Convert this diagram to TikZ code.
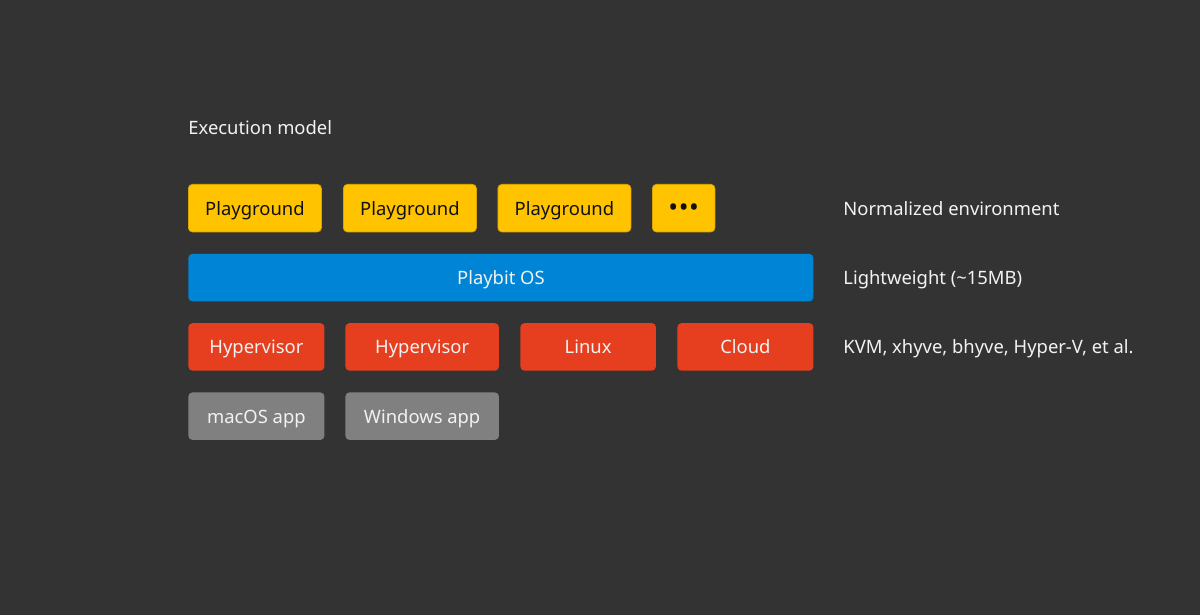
\documentclass[tikz,border=0pt]{standalone}
\usepackage{fontspec}
\setmainfont{Noto Sans}
\usepackage{xcolor}
\usetikzlibrary{positioning}
\definecolor{bg}{HTML}{333333}
\definecolor{text}{HTML}{F2F2F2}
\definecolor{ink}{HTML}{111111}
\definecolor{amber}{HTML}{FFC300}
\definecolor{amberline}{HTML}{D9A400}
\definecolor{azure}{HTML}{0084D6}
\definecolor{vermil}{HTML}{E63F1F}
\definecolor{slate}{HTML}{808080}
\tikzset{
  Block/.style={
    anchor=north west, inner sep=0pt,
    rounded corners=2pt,
    minimum height=23.75pt,
    text height=0.7em, text depth=0pt,
    font=\fontsize{9.2}{11}\selectfont
  },
  GuestBlock/.style={Block, fill=amber, draw=amberline, line width=0.4pt, text=ink},
  KernelBlock/.style={Block, fill=azure, text=text},
  HostBlock/.style={Block, fill=vermil, text=text},
  AppBlock/.style={Block, fill=slate, text=text},
  SideNote/.style={anchor=west, inner sep=0pt, text=text,
    text height=0.7em, text depth=0pt,
    font=\fontsize{9.2}{11}\selectfont}
}

\begin{document}
\begin{tikzpicture}[x=0.5pt, y=-0.5pt]
  % canvas
  \fill[bg] (0,0) rectangle (1200,615);
  \useasboundingbox (0,0) rectangle (1200,615);

  \node[SideNote] (title) at (188,128) {Execution model};

  % guest row
  \node[GuestBlock, minimum width=66.5pt] (play1) at (188,184) {Playground};
  \node[GuestBlock, minimum width=66.5pt] (play2) at (343,184) {Playground};
  \node[GuestBlock, minimum width=66.5pt] (play3) at (497.5,184) {Playground};
  \node[GuestBlock, minimum width=31.25pt, text height=0.84em,
    font=\fontsize{13}{13}\selectfont] (more) at (652,184) {•\kern0.3pt•\kern0.3pt•};

  % kernel row
  \node[KernelBlock, minimum width=312.5pt] (os) at (188,253.5) {Playbit OS};

  % host row
  \node[HostBlock, minimum width=68pt] (hyp1) at (188,322.75) {Hypervisor};
  \node[HostBlock, minimum width=76.75pt] (hyp2) at (345,322.75) {Hypervisor};
  \node[HostBlock, minimum width=67.75pt] (linux) at (520,322.75) {Linux};
  \node[HostBlock, minimum width=68pt] (cloud) at (677,322.75) {Cloud};

  % app row
  \node[AppBlock, minimum width=68pt] (macapp) at (188,392) {macOS app};
  \node[AppBlock, minimum width=76.75pt] (winapp) at (345,392) {Windows app};

  % notes
  \node[SideNote] (envnote) at (843,208) {Normalized environment};
  \node[SideNote] (sizenote) at (843,277) {Lightweight (\textasciitilde15MB)};
  \node[SideNote] (hostnote) at (843,346.5) {KVM, xhyve, bhyve, Hyper-V, et al.};
\end{tikzpicture}
\end{document}
